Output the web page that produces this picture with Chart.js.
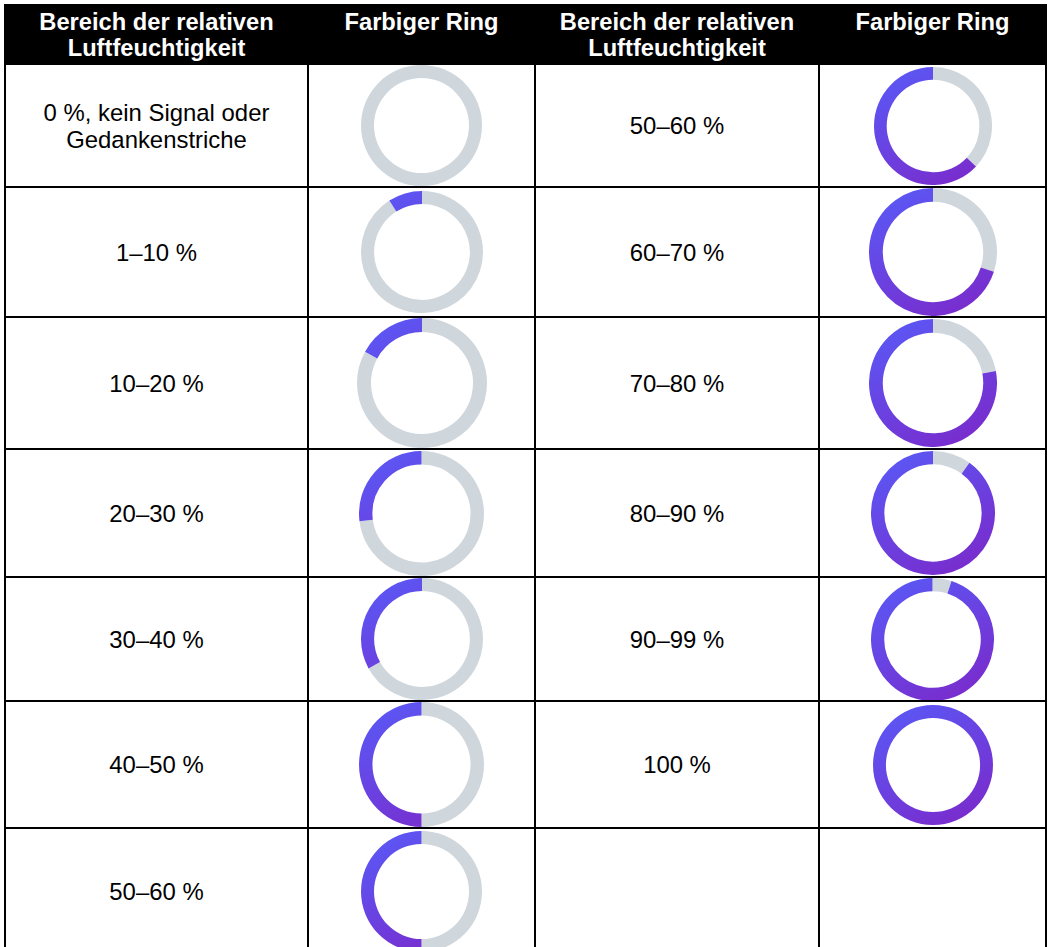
<!DOCTYPE html>
<html>
<head>
<meta charset="utf-8">
<script src="https://cdn.jsdelivr.net/npm/chart.js@4.4.1/dist/chart.umd.min.js"></script>
<style>
html, body { margin: 0; padding: 0; background: #fff; }
#page { position: relative; width: 1051px; height: 947px; overflow: hidden; font-family: "Liberation Sans", Arial, sans-serif; background: #fff; }
.line { position: absolute; background: #000; z-index: 3; }
.hdrbox { position: absolute; background: #000; z-index: 1; }
.hdr { position: absolute; text-align: center; font-weight: bold; font-size: 23.7px; line-height: 26px; color: #fff; white-space: pre-line; z-index: 4; }
.txt { position: absolute; display: flex; align-items: center; justify-content: center; text-align: center; font-size: 23.9px; line-height: 27px; color: #000; white-space: pre-line; z-index: 2; }
.ring { position: absolute; z-index: 2; }
</style>
</head>
<body>
<div id="page"></div>
<script>
// ---- data ----
const headerLabels = ['Bereich der relativen\nLuftfeuchtigkeit', 'Farbiger Ring', 'Bereich der relativen\nLuftfeuchtigkeit', 'Farbiger Ring'];
const leftRanges = ['0 %, kein Signal oder\nGedankenstriche', '1–10 %', '10–20 %', '20–30 %', '30–40 %', '40–50 %', '50–60 %'];
const leftFill = [0, 9, 17, 27, 33, 50, 50];
const rightRanges = ['50–60 %', '60–70 %', '70–80 %', '80–90 %', '90–99 %', '100 %'];
const rightFill = [63, 70, 78, 90, 95, 100];

// ---- layout ----
const colX = [4, 307, 534, 818, 1045];               // vertical rule positions
const rowY = [65, 186, 316, 448, 576, 700, 827, 953]; // horizontal rule positions
const leftRingSize = [121, 122, 130, 125, 122, 125, 121];
const rightRingSize = [118, 128, 128, 124, 123, 120];
const GRAY = '#CFD6DC';
const BLUE = '#5A58F5';
const PURPLE = '#7B2ACB';

const page = document.getElementById('page');
function el(cls, css, text) {
  const d = document.createElement('div');
  d.className = cls;
  Object.assign(d.style, css);
  if (text !== undefined) d.textContent = text;
  page.appendChild(d);
  return d;
}

// header
el('hdrbox', { left: '4px', top: '4px', width: '1043px', height: '61px' });
for (let c = 0; c < 4; c++) {
  const x0 = colX[c] + 2, x1 = colX[c + 1];
  el('hdr', { left: x0 + 'px', top: '9px', width: (x1 - x0) + 'px' }, headerLabels[c]);
}
// rules
colX.forEach(x => el('line', { left: x + 'px', top: '4px', width: '2px', height: '950px' }));
for (let r = 1; r < rowY.length - 1; r++) {
  el('line', { left: '4px', top: rowY[r] + 'px', width: '1043px', height: '2px' });
}

function cellBox(c, r) {
  const x0 = colX[c] + 2, x1 = colX[c + 1];
  const y0 = rowY[r] + (r === 0 ? 0 : 2), y1 = rowY[r + 1];
  return { x0, x1, y0, y1 };
}

function gradFill(ctx) {
  if (ctx.dataIndex === 0) return GRAY;
  const chart = ctx.chart;
  const a = chart.chartArea;
  if (!a) return BLUE;
  const g = chart.ctx.createLinearGradient(a.left + a.width * 0.2, a.top, a.right - a.width * 0.2, a.bottom);
  g.addColorStop(0, BLUE);
  g.addColorStop(1, PURPLE);
  return g;
}

function addRing(c, r, value, size) {
  const b = cellBox(c, r);
  const cx = (b.x0 + b.x1) / 2, cy = (b.y0 + b.y1) / 2;
  const box = el('ring', { left: (cx - size / 2) + 'px', top: (cy - size / 2) + 'px', width: size + 'px', height: size + 'px' });
  const cv = document.createElement('canvas');
  box.appendChild(cv);
  new Chart(cv, {
    type: 'doughnut',
    data: {
      labels: ['Rest', 'Luftfeuchtigkeit'],
      datasets: [{ data: [100 - value, value], backgroundColor: gradFill, borderWidth: 0, hoverOffset: 0 }]
    },
    options: {
      responsive: true,
      maintainAspectRatio: false,
      animation: false,
      events: [],
      cutout: '78.5%',
      layout: { padding: 0 },
      plugins: { legend: { display: false }, tooltip: { enabled: false }, title: { display: false } }
    }
  });
}

leftRanges.forEach((label, i) => {
  const bb = cellBox(0, i);
  el('txt', { left: bb.x0 + 'px', top: bb.y0 + 'px', width: (bb.x1 - bb.x0) + 'px', height: (bb.y1 - bb.y0) + 'px' }, label);
  addRing(1, i, leftFill[i], leftRingSize[i]);
});
rightRanges.forEach((label, i) => {
  const bb = cellBox(2, i);
  el('txt', { left: bb.x0 + 'px', top: bb.y0 + 'px', width: (bb.x1 - bb.x0) + 'px', height: (bb.y1 - bb.y0) + 'px' }, label);
  addRing(3, i, rightFill[i], rightRingSize[i]);
});
</script>
</body>
</html>
